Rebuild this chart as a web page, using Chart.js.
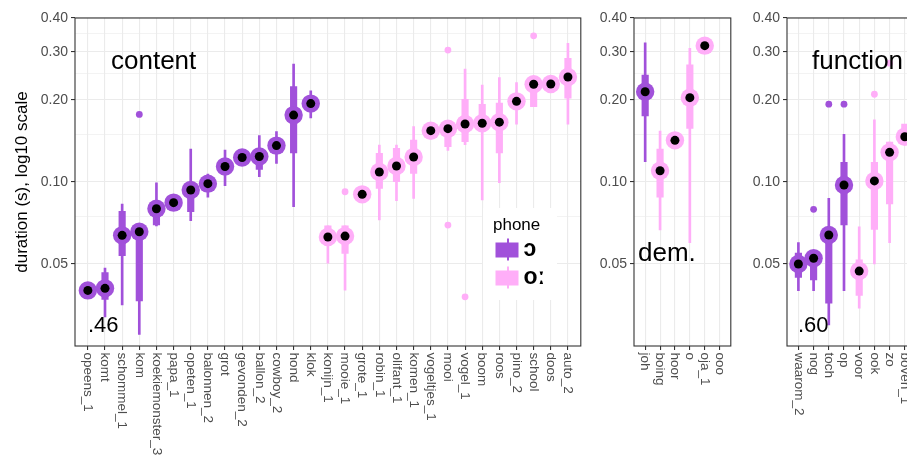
<!DOCTYPE html>
<html><head><meta charset="utf-8">
<script src="https://cdn.jsdelivr.net/npm/chart.js@4/dist/chart.umd.min.js"></script>
<style>
html,body{margin:0;padding:0;background:#fff;overflow:hidden;}
#wrap{position:relative;width:907px;height:460px;overflow:hidden;background:#fff;}
canvas{position:absolute;top:0;}
</style></head><body>
<div id="wrap">
<canvas id="c1" width="590" height="460" style="left:0px"></canvas>
<canvas id="c2" width="150" height="460" style="left:590px"></canvas>
<canvas id="c3" width="300" height="460" style="left:740px"></canvas>
</div>
<script>
// ---------- shared ----------
const phoneLabels = ['ɔ', 'oː'];
const phoneColors = ['#A151DA', '#FFAEF8'];
const yMajorTicks = [0.05, 0.1, 0.2, 0.3, 0.4];
const yMajorLabels = ['0.05', '0.10', '0.20', '0.30', '0.40'];
const yMinorTicks = [0.075, 0.15, 0.25, 0.35];

// ---------- content panel ----------
const contentCats = ['opeens_1','komt','schommel_1','kom','koekiemonster_3','papa_1','opeten_1','balonnen_2','grot','gevonden_2','ballon_2','cowboy_2','hond','klok','konijn_1','mooie_1','grote_1','robin_1','olifant_1','komen_1','vogeltjes_1','mooi','vogel_1','boom','roos','pino_2','school','doos','auto_2'];
const contentPhone = [0,0,0,0,0,0,0,0,0,0,0,0,0,0,1,1,1,1,1,1,1,1,1,1,1,1,1,1,1];
const contentMid = [0.040,0.0407,0.0637,0.0657,0.0798,0.084,0.0935,0.0986,0.114,0.123,0.124,0.136,0.176,0.194,0.0628,0.0633,0.0901,0.1088,0.1145,0.1235,0.1543,0.157,0.1633,0.1643,0.1658,0.1977,0.2284,0.229,0.243];
const contentQ1 = [null,0.0371,0.0536,0.0366,0.0695,null,0.0778,0.094,0.108,null,0.1113,0.128,0.128,null,0.0587,0.0547,null,0.0948,0.1003,0.1076,null,0.1348,0.1406,0.1584,0.128,0.185,0.189,null,0.203];
const contentQ3 = [null,0.0465,0.078,0.066,0.082,null,0.096,0.103,0.119,null,0.128,0.142,0.224,null,0.069,0.069,null,0.1274,0.133,0.1426,null,0.16,0.201,0.193,0.195,0.205,0.235,null,0.2844];
const contentLo = [null,0.032,0.0354,0.0276,0.069,null,0.0721,0.0879,0.097,null,0.1046,0.117,0.0812,0.172,0.0503,0.0401,null,0.0725,0.0854,0.0871,null,0.1305,0.137,0.0859,0.0994,0.1629,0.189,0.214,0.1629];
const contentHi = [null,0.0483,0.083,0.066,0.0994,null,0.132,0.107,0.131,null,0.148,0.153,0.271,0.216,0.069,0.069,null,0.1367,0.1367,0.1596,null,0.16,0.2596,0.227,0.2415,0.2315,0.235,0.236,0.323];
const contentOutIdx = [3, 15, 21, 21, 22, 26];
const contentOutVal = [0.177, 0.0921, 0.305, 0.0695, 0.0379, 0.344];

// ---------- dem. panel ----------
const demCats = ['joh','boing','hoor','o','oja_1','ooo'];
const demPhone = [0,1,1,1,1,1];
const demMid = [0.2145,0.11,0.1422,0.204,0.3166,null];
const demQ1 = [0.1747,0.0879,null,0.1574,null,null];
const demQ3 = [0.247,0.132,null,0.269,null,null];
const demLo = [0.1188,0.0667,null,0.0599,null,null];
const demHi = [0.324,0.1538,null,0.3095,null,null];
const demOutIdx = [];
const demOutVal = [];

// ---------- function panel ----------
const funcCats = ['waarom_2','nog','toch','op','voor','ook','zo','boven_1'];
const funcPhone = [0,0,0,0,1,1,1,1];
const funcMid = [0.05,0.0525,0.0639,0.0975,0.0471,0.1009,0.1285,0.1466];
const funcQ1 = [0.0446,0.0437,0.0359,0.0695,0.0383,0.067,0.083,0.14];
const funcQ3 = [0.0548,0.055,0.066,0.118,0.0518,0.118,0.14,0.163];
const funcLo = [0.0399,0.0399,0.0299,0.0399,0.0344,0.05,0.0599,null];
const funcHi = [0.0599,0.055,0.0871,0.1497,0.0685,0.169,0.14,null];
const funcOutIdx = [1, 2, 3, 5, 6];
const funcOutVal = [0.0794, 0.193, 0.193, 0.21, 0.273];

Chart.defaults.font.family = '"Liberation Sans", Arial, Helvetica, sans-serif';

function buildDatasets(phone, mid, q1, q3, lo, hi, outIdx, outVal) {
  const ds = [];
  for (let p = 0; p < 2; p++) {
    const idx = mid.map((_, i) => i).filter(i => phone[i] === p);
    ds.push({type:'bar', label:phoneLabels[p]+' whisker', grouped:false, barThickness:2, backgroundColor:phoneColors[p], borderWidth:0, order:5,
      data: idx.filter(i => lo[i] != null).map(i => ({x:i, y:[lo[i], hi[i]]}))});
    ds.push({type:'bar', label:phoneLabels[p]+' box', grouped:false, barThickness:6.5, backgroundColor:phoneColors[p], borderWidth:0, order:4,
      data: idx.filter(i => q1[i] != null).map(i => ({x:i, y:[q1[i], q3[i]]}))});
    ds.push({type:'scatter', label:phoneLabels[p]+' outliers', pointRadius:3.4, backgroundColor:phoneColors[p], borderWidth:0, order:3,
      data: outIdx.map((i, k) => ({x:i, y:outVal[k]})).filter(d => phone[d.x] === p)});
    ds.push({type:'scatter', label:phoneLabels[p], pointRadius:9.2, backgroundColor:phoneColors[p], borderWidth:0, order:2,
      data: idx.filter(i => mid[i] != null).map(i => ({x:i, y:mid[i]}))});
  }
  ds.push({type:'scatter', label:'centre', pointRadius:4.5, backgroundColor:'#000', borderWidth:0, order:1,
    data: mid.map((v, i) => v == null ? null : ({x:i, y:v})).filter(Boolean)});
  return ds;
}

const panelPlugin = {
  id: 'panel',
  afterDraw(chart, args, opts) {
    const ctx = chart.ctx, a = chart.chartArea, xs = chart.scales.x;
    ctx.save();
    // panel border
    ctx.strokeStyle = '#333333'; ctx.lineWidth = 1.1;
    ctx.strokeRect(a.left, a.top, a.right - a.left, a.bottom - a.top);
    // x labels, rotated clockwise
    ctx.fillStyle = '#4D4D4D';
    ctx.font = '13.5px "Liberation Sans", Arial, sans-serif';
    opts.cats.forEach((lab, i) => {
      const x = xs.getPixelForValue(i);
      ctx.save();
      ctx.translate(x, a.bottom + 6.5);
      ctx.rotate(Math.PI / 2);
      ctx.textAlign = 'left'; ctx.textBaseline = 'middle';
      ctx.fillText(lab, 0, 0);
      ctx.restore();
    });
    // annotations
    ctx.fillStyle = '#000';
    ctx.textAlign = 'left'; ctx.textBaseline = 'alphabetic';
    (opts.texts || []).forEach(t => {
      ctx.font = t.size + 'px "Liberation Sans", Arial, sans-serif';
      ctx.fillText(t.text, t.x, t.y);
    });
    // legend
    if (opts.legend) {
      const L = opts.legend;
      ctx.fillStyle = '#fff';
      ctx.fillRect(L.x, L.y, 74, 92);
      ctx.fillStyle = '#000';
      ctx.font = '17px "Liberation Sans", Arial, sans-serif';
      ctx.fillText('phone', L.x + 10, L.y + 22);
      phoneLabels.forEach((lab, p) => {
        const ky = L.y + 34.5 + p * 28;
        ctx.fillStyle = phoneColors[p];
        ctx.fillRect(L.x + 24, ky - 4, 2, 22);
        ctx.fillRect(L.x + 12.5, ky, 23, 15);
        ctx.fillStyle = '#000';
        ctx.font = 'bold 23px "Liberation Sans", Arial, sans-serif';
        ctx.fillText(lab, L.x + 40.5, ky + 13.5);
      });
    }
    ctx.restore();
  }
};

function makeChart(id, cats, datasets, o) {
  const allTicks = yMajorTicks.concat(yMinorTicks).sort((a, b) => a - b);
  return new Chart(document.getElementById(id), {
    type: 'bar',
    data: { datasets },
    options: {
      responsive: false, animation: false, devicePixelRatio: 1, events: [],
      layout: { padding: { top: 18, right: o.padRight, left: 0, bottom: 0 } },
      plugins: { legend: { display: false }, tooltip: { enabled: false },
        panel: { cats: cats, texts: o.texts, legend: o.legend } },
      scales: {
        x: {
          type: 'linear', min: -0.75, max: o.xMax, offset: false,
          afterBuildTicks: s => { s.ticks = cats.map((_, i) => ({ value: i })); },
          afterFit: s => { s.height = 114; },
          ticks: { display: false },
          grid: { offset: false, color: '#EBEBEB', lineWidth: 1.1, drawTicks: true, tickLength: 4, tickColor: '#333333' },
          border: { display: false }
        },
        y: {
          type: 'logarithmic', min: 0.025, max: 0.4,
          afterBuildTicks: s => { s.ticks = allTicks.map(v => ({ value: v })); },
          afterFit: s => { s.width = o.yWidth; },
          ticks: {
            autoSkip: false, padding: 3, color: '#4D4D4D', font: { size: 14 },
            callback: v => { const k = yMajorTicks.indexOf(v); return k < 0 ? '' : yMajorLabels[k]; }
          },
          grid: {
            color: '#EBEBEB',
            lineWidth: c => (c.tick && yMajorTicks.indexOf(c.tick.value) >= 0) ? 1.1 : 0.6,
            drawTicks: true, tickLength: 4,
            tickColor: c => (c.tick && yMajorTicks.indexOf(c.tick.value) >= 0) ? '#333333' : 'rgba(0,0,0,0)'
          },
          border: { display: false },
          title: o.yTitle ? { display: true, text: o.yTitle, color: '#000', font: { size: 17 }, padding: { top: 12, bottom: 0 } } : { display: false }
        }
      }
    },
    plugins: [panelPlugin]
  });
}

makeChart('c1', contentCats,
  buildDatasets(contentPhone, contentMid, contentQ1, contentQ3, contentLo, contentHi, contentOutIdx, contentOutVal),
  { xMax: 28.75, yWidth: 75, padRight: 9, yTitle: 'duration (s), log10 scale',
    texts: [{ text: 'content', x: 111, y: 69, size: 26 }, { text: '.46', x: 88, y: 332, size: 22 }],
    legend: { x: 483, y: 208 } });

makeChart('c2', demCats,
  buildDatasets(demPhone, demMid, demQ1, demQ3, demLo, demHi, demOutIdx, demOutVal),
  { xMax: 5.75, yWidth: 44, padRight: 6,
    texts: [{ text: 'dem.', x: 48, y: 261, size: 26 }] });

makeChart('c3', funcCats,
  buildDatasets(funcPhone, funcMid, funcQ1, funcQ3, funcLo, funcHi, funcOutIdx, funcOutVal),
  { xMax: 15.29, yWidth: 47, padRight: 6,
    texts: [{ text: 'function', x: 72, y: 69, size: 26 }, { text: '.60', x: 58, y: 332, size: 22 }] });
</script>
</body></html>
